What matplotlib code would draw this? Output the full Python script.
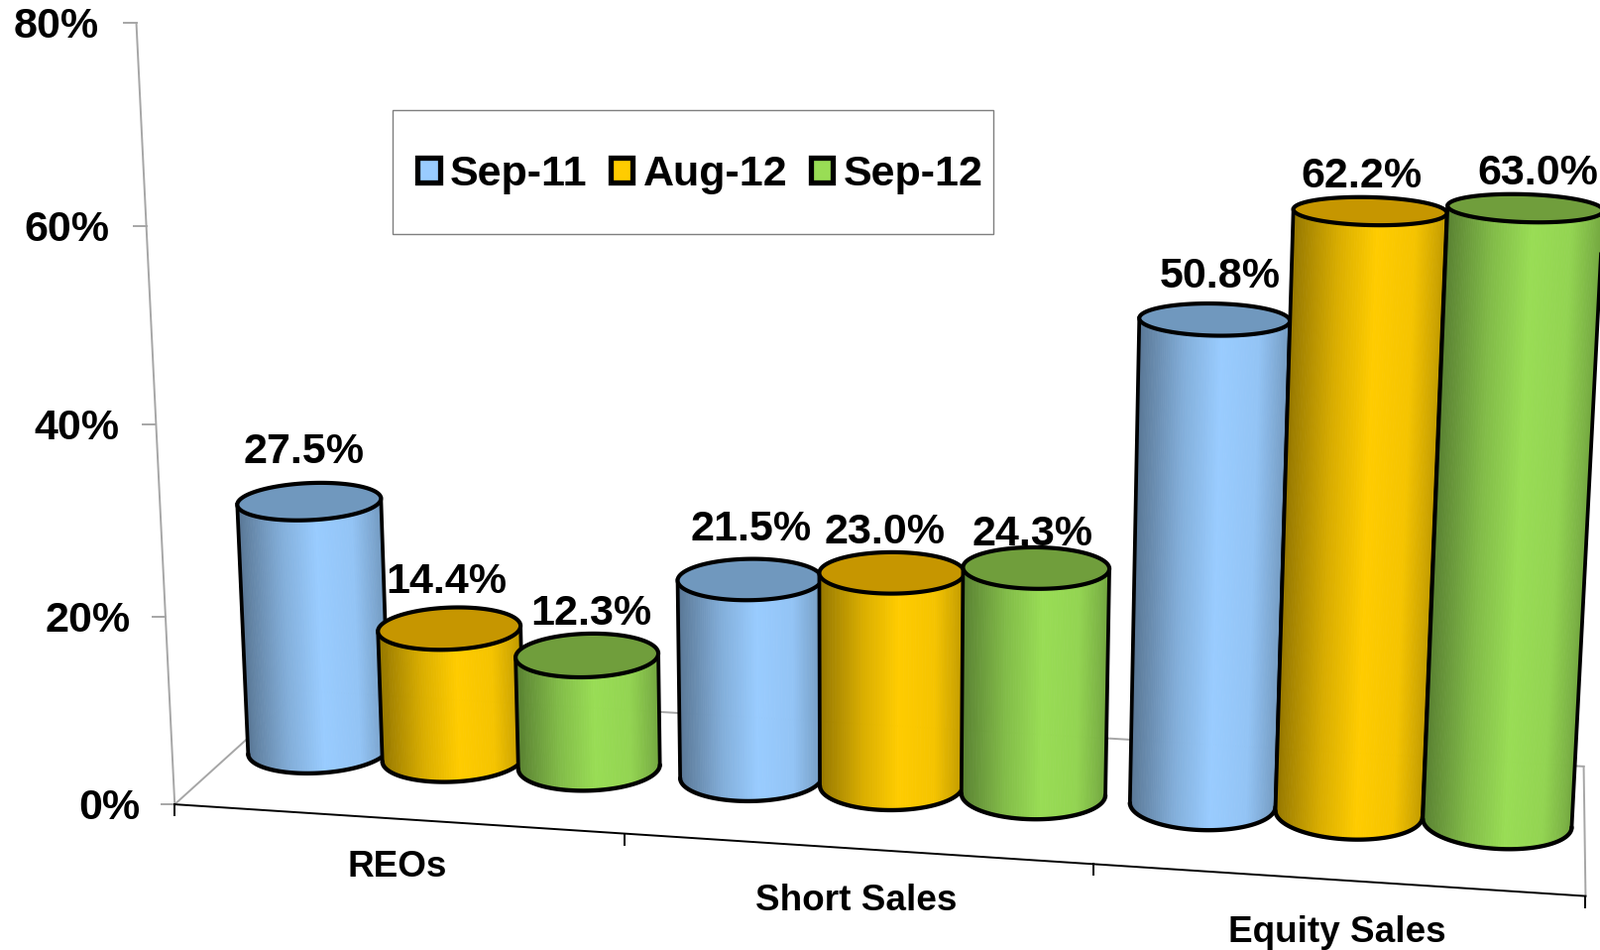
import numpy as np
import matplotlib
matplotlib.use("Agg")
import matplotlib.pyplot as plt
from matplotlib.collections import PolyCollection
from matplotlib.patches import Patch, Rectangle

plt.rcParams["font.family"] = ["Liberation Sans", "DejaVu Sans"]
plt.rcParams["font.weight"] = "bold"

# --------- data ---------
categories = ["REOs", "Short Sales", "Equity Sales"]
series = ["Sep-11", "Aug-12", "Sep-12"]
sep_11 = [27.5, 21.5, 50.8]
aug_12 = [14.4, 23.0, 62.2]
sep_12 = [12.3, 24.3, 63.0]
y_ticks = [0, 20, 40, 60, 80]

# --------- style ---------
colors = ["#99CCFF", "#FFCC00", "#99DD55"]
cap_colors = ["#7098BE", "#C69600", "#709E3C"]
shade_t = [0.0, 0.3, 0.55, 0.8, 1.0]
shade_f = [0.58, 0.85, 1.0, 0.96, 0.76]
GREY = "#A6A6A6"
LW = 2.7

# label nudges from the projected top of each cylinder (px)
label_dx = [[-6, -3, 4], [1, -7, -4], [6, -8, 13]]
label_dy = [[-49, -46, -42], [-50, -40, -33], [-43, -35, -35]]
cat_dy = [49, 53, 53]

# --------- camera: chart (u, v, w) -> pixels, fitted on axis points ---------
# u = categories 0..3, v = depth 0..1, w = percent
camera_pts = [
    (0, 0, 0, 178, 810), (1, 0, 0, 630, 840), (2, 0, 0, 1103, 872), (3, 0, 0, 1599, 903),
    (0, 0, 20, 168, 622), (0, 0, 40, 158, 427), (0, 0, 60, 149, 228), (0, 0, 80, 137, 23),
    (0, 1, 0, 307, 695), (3, 1, 0, 1597, 771),
    (0.19, 0.5, 27.5, 311, 506), (1.5, 0.5, 23.0, 900, 578), (2.19, 0.5, 50.8, 1226, 323),
    (2.81, 0.5, 63.0, 1536, 210), (2.81, 0.5, 0, 1509, 830), (0.19, 0.5, 0, 317, 760),
]


def fit_camera(pts):
    rows, rhs = [], []
    for u, v, w, x, y in pts:
        rows.append([u, v, w, 1, 0, 0, 0, 0, -x * u, -x * v, -x * w])
        rhs.append(x)
        rows.append([0, 0, 0, 0, u, v, w, 1, -y * u, -y * v, -y * w])
        rhs.append(y)
    p = np.linalg.lstsq(np.array(rows, float), np.array(rhs, float), rcond=None)[0]
    return np.append(p, 1.0).reshape(3, 4)


P = fit_camera(camera_pts)


def proj(u, v, w):
    u, v, w = np.broadcast_arrays(u, v, w)
    q = P @ np.array([u, v, w, np.ones_like(u, dtype=float)], dtype=float)
    return q[0] / q[2], q[1] / q[2]


# --------- cylinder ---------
R_U, R_V = 0.157, 0.2
BAR_STEP = 0.315
BAR_SHIFT = 0.001
V0 = 0.5


def ring(u0, w, th):
    return proj(u0 + R_U * np.cos(th), V0 + R_V * np.sin(th), w)


def side_angles(u0, w, n=90):
    # silhouette of the ring, left and right
    left = np.linspace(np.pi / 2, 3 * np.pi / 2, 721)
    right = np.linspace(3 * np.pi / 2, 5 * np.pi / 2, 721)
    tl = left[np.argmin(ring(u0, w, left)[0])]
    tr = right[np.argmax(ring(u0, w, right)[0])]
    return np.linspace(tl, tr, n)


def draw_cylinder(ax, u0, value, s, z):
    th_top = side_angles(u0, value)
    th_bot = side_angles(u0, 0)
    xt, yt = ring(u0, value, th_top)
    xb, yb = ring(u0, 0, th_bot)

    polys, faces = [], []
    base = np.array(matplotlib.colors.to_rgb(colors[s]))
    for i in range(len(xt) - 1):
        polys.append([(xt[i], yt[i]), (xt[i + 1], yt[i + 1]), (xb[i + 1], yb[i + 1]), (xb[i], yb[i])])
        t = (0.5 * (xt[i] + xt[i + 1]) - xt[0]) / (xt[-1] - xt[0])
        faces.append(base * np.interp(t, shade_t, shade_f))
    ax.add_collection(PolyCollection(polys, facecolors=faces, edgecolors=faces, linewidths=0.6, zorder=z))

    # outline of the sides and the front of the base
    ax.plot([xt[0], xb[0]], [yt[0], yb[0]], color="black", lw=LW, zorder=z + 0.1)
    ax.plot([xt[-1], xb[-1]], [yt[-1], yb[-1]], color="black", lw=LW, zorder=z + 0.1)
    ax.plot(xb, yb, color="black", lw=LW + 0.4, zorder=z + 0.1, solid_capstyle="round")

    th = np.linspace(0, 2 * np.pi, 181)
    xc, yc = ring(u0, value, th)
    ax.fill(xc, yc, facecolor=cap_colors[s], edgecolor="black", lw=LW + 0.3, zorder=z + 0.2)


# --------- figure ---------
fig = plt.figure(figsize=(16.14, 9.58), dpi=100, facecolor="white")
ax = fig.add_axes([0, 0, 1, 1])
ax.set_xlim(0, 1614)
ax.set_ylim(958, 0)
ax.axis("off")

# walls and floor
for a, b, col, lw in [
    ((0, 0, 0), (0, 0, 80), GREY, 1.4),
    ((0, 0, 0), (0, 1, 0), GREY, 1.4),
    ((0, 1, 0), (3, 1, 0), GREY, 1.4),
    ((3, 1, 0), (3, 0, 0), GREY, 1.4),
    ((0, 0, 0), (3, 0, 0), "black", 1.4),
]:
    xs, ys = proj(np.array([a[0], b[0]]), np.array([a[1], b[1]]), np.array([a[2], b[2]]))
    ax.plot(xs, ys, color=col, lw=lw, zorder=1)

for tick in y_ticks:
    x, y = proj(0, 0, tick)
    ax.plot([x - 13, x], [y, y], color=GREY, lw=1.4, zorder=1)
    ax.text(x - 35 - tick * 0.04, y + 4, f"{tick}%", ha="right", va="center", fontsize=31, color="black")

for c in range(len(categories) + 1):
    x, y = proj(c, 0, 0)
    ax.plot([x, x], [y, y + 11], color="black", lw=1.4, zorder=1)

for c, name in enumerate(categories):
    x, y = proj(c + 0.5, 0, 0)
    ax.text(x, y + cat_dy[c], name, ha="center", va="center", fontsize=26.6, color="black")

# cylinders and data labels
z = 3
for c in range(len(categories)):
    for s, values in enumerate([sep_11, aug_12, sep_12]):
        u0 = c + 0.5 + (s - 1) * BAR_STEP + BAR_SHIFT
        draw_cylinder(ax, u0, values[c], s, z)
        x, y = proj(u0, V0, values[c])
        ax.text(x + label_dx[c][s], y + label_dy[c][s], f"{values[c]:.1f}%", ha="center", va="center",
                fontsize=31, color="black", zorder=2)
        z += 1

# legend
ax.add_patch(Rectangle((396, 111), 606, 125, facecolor="white", edgecolor="#7F7F7F", lw=1.0, zorder=2))
handles = [Patch(facecolor=colors[i], edgecolor="black", lw=3.8, joinstyle="round") for i in range(3)]
ax.legend(handles, series, ncol=3, loc="center", bbox_to_anchor=(706.5, 176), bbox_transform=ax.transData,
          frameon=False, fontsize=31, handlelength=0.52, handleheight=0.52, handletextpad=0.24,
          columnspacing=0.54, borderpad=0, borderaxespad=0).set_zorder(2.5)

fig.savefig("out.png", dpi=100)
